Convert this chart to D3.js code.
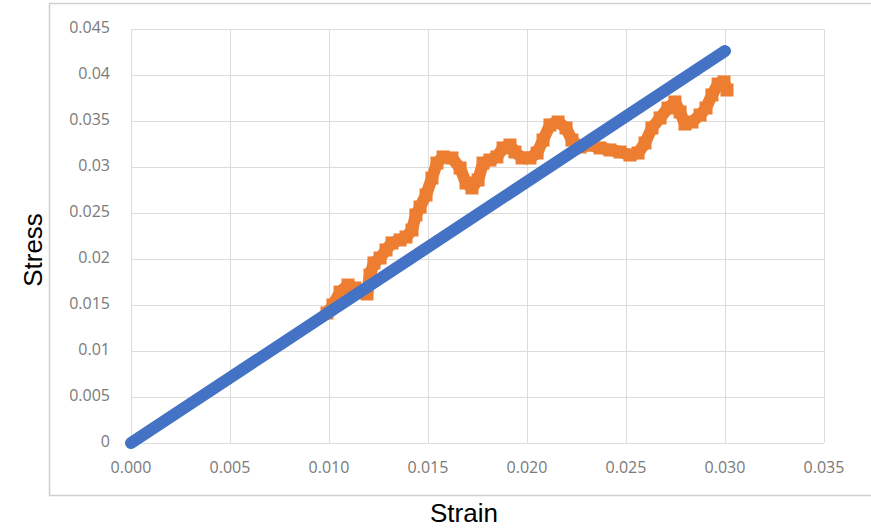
<!DOCTYPE html>
<html>
<head>
<meta charset="utf-8">
<script src="https://cdn.jsdelivr.net/npm/d3@7"></script>
<style>
  body { margin: 0; background: #fff; }
  svg { display: block; }
</style>
</head>
<body>
<div id="container"></div>
<script>
const width = 871;
const height = 530;

// measured series (orange markers)
const strainMeasured = [
  0.00990, 0.01020, 0.01056, 0.01096, 0.01131, 0.01167, 0.01192, 0.01207, 0.01227, 0.01258,
  0.01288, 0.01318, 0.01359, 0.01389, 0.01419, 0.01439, 0.01460, 0.01490, 0.01520, 0.01545,
  0.01576, 0.01621, 0.01662, 0.01692, 0.01722, 0.01753, 0.01778, 0.01813, 0.01848, 0.01879,
  0.01914, 0.01939, 0.01975, 0.02015, 0.02051, 0.02081, 0.02116, 0.02157, 0.02197, 0.02227,
  0.02268, 0.02318, 0.02369, 0.02419, 0.02470, 0.02520, 0.02561, 0.02596, 0.02631, 0.02672,
  0.02712, 0.02747, 0.02773, 0.02798, 0.02833, 0.02874, 0.02904, 0.02934, 0.02965, 0.02995,
  0.03010
];
const stressMeasured = [
  0.01413, 0.01500, 0.01641, 0.01717, 0.01685, 0.01641, 0.01620, 0.01826, 0.01957, 0.02011,
  0.02098, 0.02174, 0.02207, 0.02239, 0.02315, 0.02478, 0.02565, 0.02696, 0.02880, 0.03043,
  0.03109, 0.03098, 0.02989, 0.02826, 0.02772, 0.02859, 0.03043, 0.03076, 0.03109, 0.03207,
  0.03239, 0.03163, 0.03098, 0.03098, 0.03152, 0.03293, 0.03457, 0.03489, 0.03424, 0.03293,
  0.03217, 0.03239, 0.03207, 0.03185, 0.03163, 0.03130, 0.03152, 0.03261, 0.03424, 0.03533,
  0.03641, 0.03707, 0.03598, 0.03467, 0.03489, 0.03565, 0.03641, 0.03783, 0.03902, 0.03924,
  0.03837
];

// linear fit (blue line)
const strainFit = [0, 0.030];
const stressFit = [0, 0.0426];

const xTicks = [0, 0.005, 0.010, 0.015, 0.020, 0.025, 0.030, 0.035];
const xTickLabels = ["0.000", "0.005", "0.010", "0.015", "0.020", "0.025", "0.030", "0.035"];
const yTicks = [0, 0.005, 0.01, 0.015, 0.02, 0.025, 0.03, 0.035, 0.04, 0.045];
const yTickLabels = ["0", "0.005", "0.01", "0.015", "0.02", "0.025", "0.03", "0.035", "0.04", "0.045"];

const x = d3.scaleLinear().domain([0, 0.035]).range([131, 824]);
const y = d3.scaleLinear().domain([0, 0.045]).range([443, 29]);

const svg = d3.select("#container")
  .append("svg")
  .attr("width", width)
  .attr("height", height);

// chart frame
svg.append("rect")
  .attr("x", 49.5)
  .attr("y", 3.5)
  .attr("width", 840)
  .attr("height", 492)
  .attr("fill", "#fff")
  .attr("stroke", "#cfcfcf")
  .attr("stroke-width", 1.5);

// grid
const grid = svg.append("g").attr("stroke", "#dcdcdc").attr("stroke-width", 1);
grid.selectAll(".gx")
  .data(xTicks)
  .join("line")
  .attr("x1", (d) => Math.round(x(d)) + 0.5)
  .attr("x2", (d) => Math.round(x(d)) + 0.5)
  .attr("y1", y(0.045))
  .attr("y2", y(0));
grid.selectAll(".gy")
  .data(yTicks)
  .join("line")
  .attr("x1", x(0))
  .attr("x2", x(0.035))
  .attr("y1", (d) => Math.round(y(d)) + 0.5)
  .attr("y2", (d) => Math.round(y(d)) + 0.5);

// tick labels
const tickFont = "'Open Sans', sans-serif";
svg.append("g")
  .selectAll("text")
  .data(xTicks)
  .join("text")
  .attr("x", (d) => x(d))
  .attr("y", 469)
  .attr("text-anchor", "middle")
  .attr("dominant-baseline", "middle")
  .attr("font-family", tickFont)
  .attr("font-size", 16)
  .attr("fill", "#7a7a7a")
  .text((d, i) => xTickLabels[i]);

svg.append("g")
  .selectAll("text")
  .data(yTicks)
  .join("text")
  .attr("x", 110)
  .attr("y", (d) => y(d))
  .attr("text-anchor", "end")
  .attr("dominant-baseline", "middle")
  .attr("font-family", tickFont)
  .attr("font-size", 16)
  .attr("fill", "#7a7a7a")
  .text((d, i) => yTickLabels[i]);

// measured series
const measured = strainMeasured.map((s, i) => [s, stressMeasured[i]]);
const line = d3.line().x((d) => x(d[0])).y((d) => y(d[1]));

svg.append("path")
  .datum(measured)
  .attr("d", line)
  .attr("fill", "none")
  .attr("stroke", "#ED7D31")
  .attr("stroke-width", 12)
  .attr("stroke-linejoin", "bevel");

const markerSize = 13;
svg.append("g")
  .selectAll("rect")
  .data(measured)
  .join("rect")
  .attr("x", (d) => x(d[0]) - markerSize / 2)
  .attr("y", (d) => y(d[1]) - markerSize / 2)
  .attr("width", markerSize)
  .attr("height", markerSize)
  .attr("fill", "#ED7D31");

// fit line
const fit = strainFit.map((s, i) => [s, stressFit[i]]);
svg.append("path")
  .datum(fit)
  .attr("d", line)
  .attr("fill", "none")
  .attr("stroke", "#4472C4")
  .attr("stroke-width", 12)
  .attr("stroke-linecap", "round");

// axis titles
svg.append("text")
  .attr("x", 464)
  .attr("y", 522)
  .attr("text-anchor", "middle")
  .attr("font-family", "'Liberation Sans', Arial, sans-serif")
  .attr("font-size", 26)
  .attr("fill", "#000")
  .text("Strain");

svg.append("text")
  .attr("transform", "translate(42,250) rotate(-90)")
  .attr("text-anchor", "middle")
  .attr("font-family", "'Liberation Sans', Arial, sans-serif")
  .attr("font-size", 26)
  .attr("fill", "#000")
  .text("Stress");
</script>
</body>
</html>
